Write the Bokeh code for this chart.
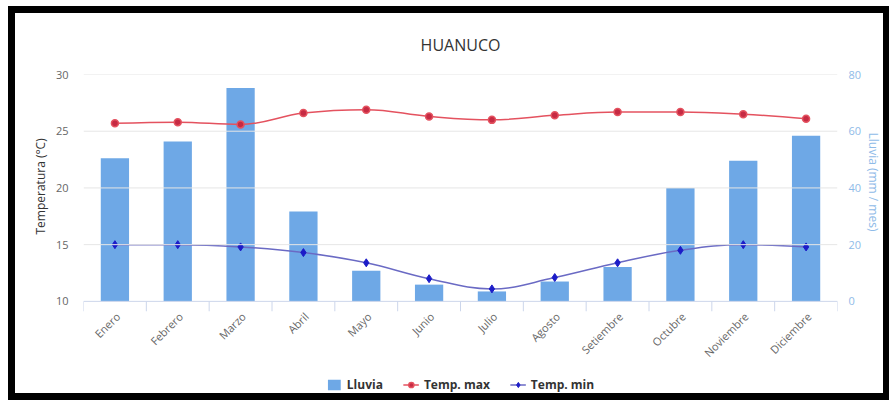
import math
from bokeh.plotting import figure
from bokeh.models import (Range1d, LinearAxis, FixedTicker, Legend, LegendItem,
                          ColumnDataSource, Span, Title)
from bokeh.embed import file_html
from bokeh.resources import INLINE

# Climate normals for Huánuco
meses = ["Enero", "Febrero", "Marzo", "Abril", "Mayo", "Junio", "Julio",
         "Agosto", "Setiembre", "Octubre", "Noviembre", "Diciembre"]
lluvia = [50.5, 56.4, 75.2, 31.7, 10.8, 5.9, 3.5, 7.0, 12.1, 40.0, 49.6, 58.4]
temp_max = [25.7, 25.8, 25.6, 26.6, 26.9, 26.3, 26.0, 26.4, 26.7, 26.7, 26.5, 26.1]
temp_min = [15.0, 15.0, 14.8, 14.3, 13.4, 12.0, 11.1, 12.1, 13.4, 14.5, 15.0, 14.8]
temp_ticks = [10, 15, 20, 25, 30]
lluvia_ticks = [0, 20, 40, 60, 80]

FONT = "Open Sans"
xs = list(range(len(meses)))

# Canvas geometry (pixels): the plot area runs from the top gridline down to the
# canvas bottom so that the month labels and the legend can sit inside it.
CANVAS_W, CANVAS_H = 868, 380
BORDER_L, BORDER_R, BORDER_T = 68, 45, 58
AXIS_PX = 229                      # height between lowest and highest gridline
BELOW_PX = CANVAS_H - BORDER_T - AXIS_PX
t_per_px = (temp_ticks[-1] - temp_ticks[0]) / AXIS_PX
r_per_px = (lluvia_ticks[-1] - lluvia_ticks[0]) / AXIS_PX


def spline_segments(x, y, smoothing=1.5):
    """Cubic bezier segments through the points (spline smoothing)."""
    n = len(x)
    lc = [(x[i], y[i]) for i in range(n)]
    rc = [(x[i], y[i]) for i in range(n)]
    den = smoothing + 1
    for i in range(1, n - 1):
        px, py = x[i], y[i]
        lx = (smoothing * px + x[i - 1]) / den
        ly = (smoothing * py + y[i - 1]) / den
        rx = (smoothing * px + x[i + 1]) / den
        ry = (smoothing * py + y[i + 1]) / den
        corr = ((ry - ly) * (rx - px)) / (rx - lx) + py - ry
        ly += corr
        ry += corr
        if ly > y[i - 1] and ly > py:
            ly = max(y[i - 1], py); ry = 2 * py - ly
        elif ly < y[i - 1] and ly < py:
            ly = min(y[i - 1], py); ry = 2 * py - ly
        if ry > y[i + 1] and ry > py:
            ry = max(y[i + 1], py); ly = 2 * py - ry
        elif ry < y[i + 1] and ry < py:
            ry = min(y[i + 1], py); ly = 2 * py - ry
        lc[i] = (lx, ly)
        rc[i] = (rx, ry)
    return dict(
        x0=x[:-1], y0=y[:-1], x1=x[1:], y1=y[1:],
        cx0=[rc[i][0] for i in range(n - 1)], cy0=[rc[i][1] for i in range(n - 1)],
        cx1=[lc[i + 1][0] for i in range(n - 1)], cy1=[lc[i + 1][1] for i in range(n - 1)],
    )


p = figure(width=CANVAS_W, height=CANVAS_H,
           x_range=Range1d(-0.5, len(meses) - 0.5),
           y_range=Range1d(temp_ticks[0] - BELOW_PX * t_per_px, temp_ticks[-1]),
           x_axis_location=None, y_axis_location=None,
           output_backend="svg", toolbar_location=None, title="HUANUCO",
           min_border_left=BORDER_L, min_border_right=BORDER_R,
           min_border_top=BORDER_T, min_border_bottom=0)
p.extra_y_ranges = {"lluvia": Range1d(lluvia_ticks[0] - BELOW_PX * r_per_px, lluvia_ticks[-1])}
# black frame drawn around the chart panel
p.styles = {"margin": "13px 6px 7px 15px", "outline": "7px solid black"}
p.outline_line_color = None
p.background_fill_color = "white"
p.border_fill_color = "white"

p.title.align = "center"
p.title.text_font = FONT
p.title.text_font_size = "16px"
p.title.text_font_style = "normal"
p.title.text_color = "#333333"
p.title.standoff = 37

# left (temperature) axis
ya = LinearAxis(ticker=FixedTicker(ticks=temp_ticks))
ya.axis_line_color = None
ya.major_tick_line_color = None
ya.minor_tick_line_color = None
ya.major_tick_out = 0
ya.major_label_standoff = 15
ya.major_label_text_font = FONT
ya.major_label_text_font_size = "11px"
ya.major_label_text_color = "#666666"
p.add_layout(ya, "left")

# right (rain) axis
ra = LinearAxis(y_range_name="lluvia", ticker=FixedTicker(ticks=lluvia_ticks))
ra.axis_line_color = None
ra.major_tick_line_color = None
ra.minor_tick_line_color = None
ra.major_tick_out = 0
ra.major_label_standoff = 11
ra.major_label_text_font = FONT
ra.major_label_text_font_size = "11px"
ra.major_label_text_color = "#8fbbe8"
p.add_layout(ra, "right")

# axis titles, placed along the gridded part of the plot
p.add_layout(Title(text="Temperatura (°C)", align="left", offset=159, standoff=7,
                   text_font=FONT, text_font_size="12px", text_font_style="normal",
                   text_color="#333333"), "left")
p.add_layout(Title(text="Lluvia (mm / mes)", align="left", offset=58, standoff=0,
                   text_font=FONT, text_font_size="12px", text_font_style="normal",
                   text_color="#8fbbe8"), "right")

p.xgrid.grid_line_color = None
p.ygrid.grid_line_color = None
for t in temp_ticks[1:]:
    p.add_layout(Span(location=t, dimension="width", line_color="#e6e6e6", line_width=1))

src = ColumnDataSource(dict(x=xs, lluvia=lluvia, tmax=temp_max, tmin=temp_min))

bars = p.vbar(x="x", top="lluvia", bottom=0, width=0.45, source=src,
              y_range_name="lluvia", fill_color="#6ea8e6", line_color=None)

# month axis: baseline, category boundary ticks and slanted labels
base = temp_ticks[0]
p.add_layout(Span(location=base, dimension="width", line_color="#ccd6eb", line_width=1))
bounds = [i - 0.5 for i in range(len(meses) + 1)]
p.segment(x0=bounds, y0=[base] * len(bounds), x1=bounds,
          y1=[base - 10 * t_per_px] * len(bounds), line_color="#ccd6eb", line_width=1)
p.text(x=xs, y=[base] * len(xs), text=meses, angle=math.pi / 4,
       text_align="right", text_baseline="middle", x_offset=3, y_offset=13,
       text_font={"value": FONT}, text_font_size="11px", text_color="#666666")

max_curve = p.bezier(line_color="#e4525f", line_width=1.5,
                     source=ColumnDataSource(spline_segments(xs, temp_max)))
max_pts = p.scatter(x="x", y="tmax", source=src, marker="circle", size=7,
                    fill_color="#c62a43", line_color="#e4525f", line_width=1.5)

min_curve = p.bezier(line_color="#6a6ac4", line_width=1.5,
                     source=ColumnDataSource(spline_segments(xs, temp_min)))
min_pts = p.scatter(x="x", y="tmin", source=src, marker="diamond", size=8,
                    fill_color="#1c1cc8", line_color="#1c1cc8")

legend = Legend(items=[
    LegendItem(label="Lluvia", renderers=[bars]),
    LegendItem(label="Temp. max", renderers=[max_curve, max_pts]),
    LegendItem(label="Temp. min", renderers=[min_curve, min_pts]),
], orientation="horizontal", location="bottom_center")
legend.border_line_color = None
legend.background_fill_alpha = 0
legend.label_text_font = FONT
legend.label_text_font_size = "12px"
legend.label_text_font_style = "bold"
legend.label_text_color = "#333333"
legend.glyph_width = 16
legend.glyph_height = 13
legend.label_standoff = 5
legend.spacing = 20
legend.padding = 2
legend.margin = 0
p.add_layout(legend)

open("out.html", "w").write(file_html(p, INLINE))
